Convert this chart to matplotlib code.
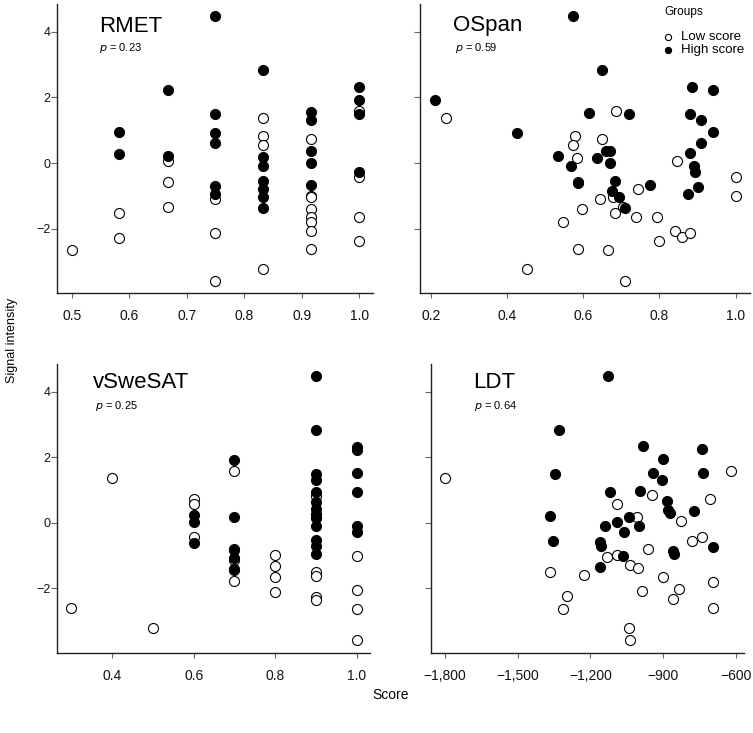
import numpy as np
import matplotlib
matplotlib.use("Agg")
import matplotlib.pyplot as plt

plt.rcParams['font.family'] = ['Liberation Sans', 'DejaVu Sans']

# RMET
rmet_low_x = [0.5, 0.583, 0.583, 0.667, 0.667, 0.667, 0.75, 0.75, 0.75,
              0.833, 0.833, 0.833, 0.833,
              0.917, 0.917, 0.917, 0.917, 0.917, 0.917, 0.917, 0.917,
              1.0, 1.0, 1.0, 1.0]
rmet_low_y = [-2.65, -1.53, -2.27, 0.05, -0.58, -1.32, -1.09, -2.12, -3.58,
              1.37, 0.83, 0.56, -3.21,
              0.73, -1.00, -1.02, -1.40, -1.63, -1.78, -2.06, -2.62,
              1.60, -0.41, -1.65, -2.36]
rmet_high_x = [0.583, 0.583, 0.667, 0.667,
               0.75, 0.75, 0.75, 0.75, 0.75, 0.75,
               0.833, 0.833, 0.833, 0.833, 0.833, 0.833, 0.833,
               0.917, 0.917, 0.917, 0.917, 0.917,
               1.0, 1.0, 1.0, 1.0]
rmet_high_y = [0.95, 0.29, 2.22, 0.22,
               4.48, 1.48, 0.92, 0.61, -0.71, -0.94,
               2.84, 0.18, -0.08, -0.54, -0.79, -1.04, -1.38,
               1.55, 1.32, 0.38, 0.01, -0.68,
               2.31, 1.91, 1.48, -0.28]

# OSpan
ospan_low_x = [0.239, 0.685, 0.579, 0.573, 0.650, 0.583, 0.846, 1.0, 1.0,
               0.587, 0.743, 0.644, 0.679, 0.704, 0.596, 0.683, 0.738, 0.794,
               0.547, 0.842, 0.858, 0.881, 0.800, 0.587, 0.666, 0.453, 0.710]
ospan_low_y = [1.37, 1.58, 0.82, 0.56, 0.73, 0.16, 0.05, -0.42, -1.00,
               -0.56, -0.79, -1.08, -1.04, -1.32, -1.41, -1.52, -1.64, -1.63,
               -1.79, -2.06, -2.26, -2.12, -2.36, -2.62, -2.64, -3.21, -3.58]
ospan_high_x = [0.572, 0.211, 0.650, 0.885, 0.941, 0.615, 0.719, 0.880, 0.909,
                0.427, 0.941, 0.909, 0.879, 0.533, 0.637, 0.660, 0.669, 0.569,
                0.669, 0.890, 0.892, 0.585, 0.682, 0.774, 0.676, 0.694, 0.900,
                0.876, 0.710]
ospan_high_y = [4.48, 1.91, 2.84, 2.31, 2.22, 1.52, 1.49, 1.49, 1.31,
                0.93, 0.95, 0.62, 0.30, 0.21, 0.17, 0.38, 0.38, -0.09,
                0.01, -0.10, -0.28, -0.60, -0.54, -0.68, -0.85, -1.04, -0.74,
                -0.94, -1.38]

# vSweSAT
vswe_low_x = [0.3, 0.4, 0.5, 0.6, 0.6, 0.6,
              0.7, 0.7, 0.7, 0.7, 0.7,
              0.8, 0.8, 0.8, 0.8,
              0.9, 0.9, 0.9, 0.9, 0.9, 0.9,
              1.0, 1.0, 1.0, 1.0]
vswe_low_y = [-2.61, 1.37, -3.20, 0.74, 0.56, -0.42,
              1.58, -0.80, -1.12, -1.43, -1.78,
              -0.98, -1.32, -1.65, -2.12,
              0.83, 0.17, -1.50, -1.63, -2.26, -2.36,
              -1.02, -2.06, -2.63, -3.57]
vswe_high_x = [0.6, 0.6, 0.6,
               0.7, 0.7, 0.7, 0.7, 0.7,
               0.9, 0.9, 0.9, 0.9, 0.9, 0.9, 0.9, 0.9, 0.9, 0.9, 0.9, 0.9, 0.9,
               1.0, 1.0, 1.0, 1.0, 1.0, 1.0]
vswe_high_y = [0.24, 0.01, -0.61,
               1.91, 0.18, -0.84, -1.07, -1.40,
               4.47, 2.83, 1.49, 1.31, 0.93, 0.63, 0.43, 0.27, 0.14, -0.10,
               -0.51, -0.71, -0.94,
               2.32, 2.21, 1.51, 0.93, -0.10, -0.29]

# LDT
ldt_low_x = [-1800, -1367, -1297, -1313, -1227, -1131, -1091, -1091, -1036,
             -1008, -1004, -986, -1041, -1037, -961, -945, -900, -861, -834,
             -828, -781, -741, -707, -693, -693, -622]
ldt_low_y = [1.37, -1.49, -2.23, -2.63, -1.60, -1.04, 0.56, -0.97, -1.28,
             0.17, -1.39, -2.09, -3.20, -3.57, -0.81, 0.85, -1.64, -2.31, -2.01,
             0.06, -0.57, -0.42, 0.73, -1.79, -2.61, 1.57]
ldt_high_x = [-1128, -1329, -1345, -1366, -1355, -1162, -1157, -1161, -1142,
              -1121, -1089, -1062, -1067, -1040, -1001, -995, -983, -942, -905,
              -901, -883, -880, -874, -861, -854, -775, -739, -738, -693]
ldt_high_y = [4.47, 2.84, 1.48, 0.22, -0.54, -0.58, -0.70, -1.36, -0.09,
              0.95, 0.01, -0.27, -1.00, 0.17, -0.10, 0.98, 2.33, 1.51, 1.30,
              1.94, 0.66, 0.38, 0.29, -0.85, -0.94, 0.37, 2.25, 1.52, -0.73]

titles = ["RMET", "OSpan", "vSweSAT", "LDT"]
p_values = ["0.23", "0.59", "0.25", "0.64"]

W, H = 753, 733
fig = plt.figure(figsize=(W / 100, H / 100), dpi=100)


def add_panel(left, right, top, bottom):
    return fig.add_axes([left / W, 1 - bottom / H, (right - left) / W, (bottom - top) / H])


panels = [
    # pixel box, xlim, xticks, xticklabels, title pos, p pos, show y labels
    dict(box=(57.3, 373.3, 4, 293.3), xlim=(0.475, 1.0245),
         xticks=[0.5, 0.6, 0.7, 0.8, 0.9, 1.0],
         xlabels=["0.5", "0.6", "0.7", "0.8", "0.9", "1.0"],
         tpos=(0.133, 0.903), ppos=(0.133, 0.849), ylab=True,
         data=(rmet_low_x, rmet_low_y, rmet_high_x, rmet_high_y)),
    dict(box=(420.5, 750, 4, 293.3), xlim=(0.173, 1.0375),
         xticks=[0.2, 0.4, 0.6, 0.8, 1.0],
         xlabels=["0.2", "0.4", "0.6", "0.8", "1.0"],
         tpos=(0.1, 0.908), ppos=(0.105, 0.849), ylab=False,
         data=(ospan_low_x, ospan_low_y, ospan_high_x, ospan_high_y)),
    dict(box=(57.3, 370, 364, 652.7), xlim=(0.266, 1.032),
         xticks=[0.4, 0.6, 0.8, 1.0],
         xlabels=["0.4", "0.6", "0.8", "1.0"],
         tpos=(0.115, 0.916), ppos=(0.12, 0.854), ylab=True,
         data=(vswe_low_x, vswe_low_y, vswe_high_x, vswe_high_y)),
    dict(box=(431, 744, 364, 652.7), xlim=(-1857.7, -567),
         xticks=[-1800, -1500, -1200, -900, -600],
         xlabels=["\u22121,800", "\u22121,500", "\u22121,200", "\u2212900", "\u2212600"],
         tpos=(0.133, 0.916), ppos=(0.137, 0.854), ylab=False,
         data=(ldt_low_x, ldt_low_y, ldt_high_x, ldt_high_y)),
]

spine_col = '#222222'
handles = None
for i, pnl in enumerate(panels):
    ax = add_panel(*pnl["box"])
    lx, ly, hx, hy = pnl["data"]
    h_low = ax.scatter(lx, ly, s=52, facecolor='white', edgecolor='black',
                       linewidth=0.8, zorder=3)
    h_high = ax.scatter(hx, hy, s=52, facecolor='black', edgecolor='black',
                        linewidth=0.8, zorder=4)
    if handles is None:
        handles = [h_low, h_high]
    ax.set_xlim(*pnl["xlim"])
    ax.set_ylim(-3.96, 4.84)
    ax.set_xticks(pnl["xticks"])
    ax.set_xticklabels(pnl["xlabels"])
    ax.set_yticks([-2, 0, 2, 4])
    if not pnl["ylab"]:
        ax.set_yticklabels([])
    for s in ["top", "right"]:
        ax.spines[s].set_visible(False)
    for s in ["left", "bottom"]:
        ax.spines[s].set_color(spine_col)
        ax.spines[s].set_linewidth(1.0)
    ax.tick_params(axis='x', direction='out', length=3.5, width=0.8,
                   color='#666666', labelsize=10, pad=8, labelcolor='#111111')
    ax.tick_params(axis='y', direction='out', length=4, width=0.8,
                   color='#666666', labelsize=9, pad=0.8, labelcolor='#111111')
    ax.text(pnl["tpos"][0], pnl["tpos"][1], titles[i], transform=ax.transAxes,
            fontsize=16, ha='left', va='baseline')
    ax.text(pnl["ppos"][0], pnl["ppos"][1], "$\\it{p}$ = " + p_values[i],
            transform=ax.transAxes, fontsize=8, ha='left', va='center')

fig.text(664 / W, 1 - 12 / H, "Groups", ha='left', va='center', fontsize=8.5)
leg = fig.legend(handles, ["Low score", "High score"],
                 loc='upper left', bbox_to_anchor=(662 / W, 1 - 31 / H),
                 frameon=False, fontsize=9.5,
                 markerscale=0.62, handletextpad=0.55, labelspacing=0.05,
                 handlelength=0.9, borderaxespad=0, borderpad=0)

fig.text(12 / W, 1 - 340 / H, "Signal intensity", rotation=90,
         ha='center', va='center', fontsize=9)
fig.text(391 / W, 1 - 695 / H, "Score", ha='center', va='center', fontsize=10)

fig.savefig("out.png", dpi=100)
